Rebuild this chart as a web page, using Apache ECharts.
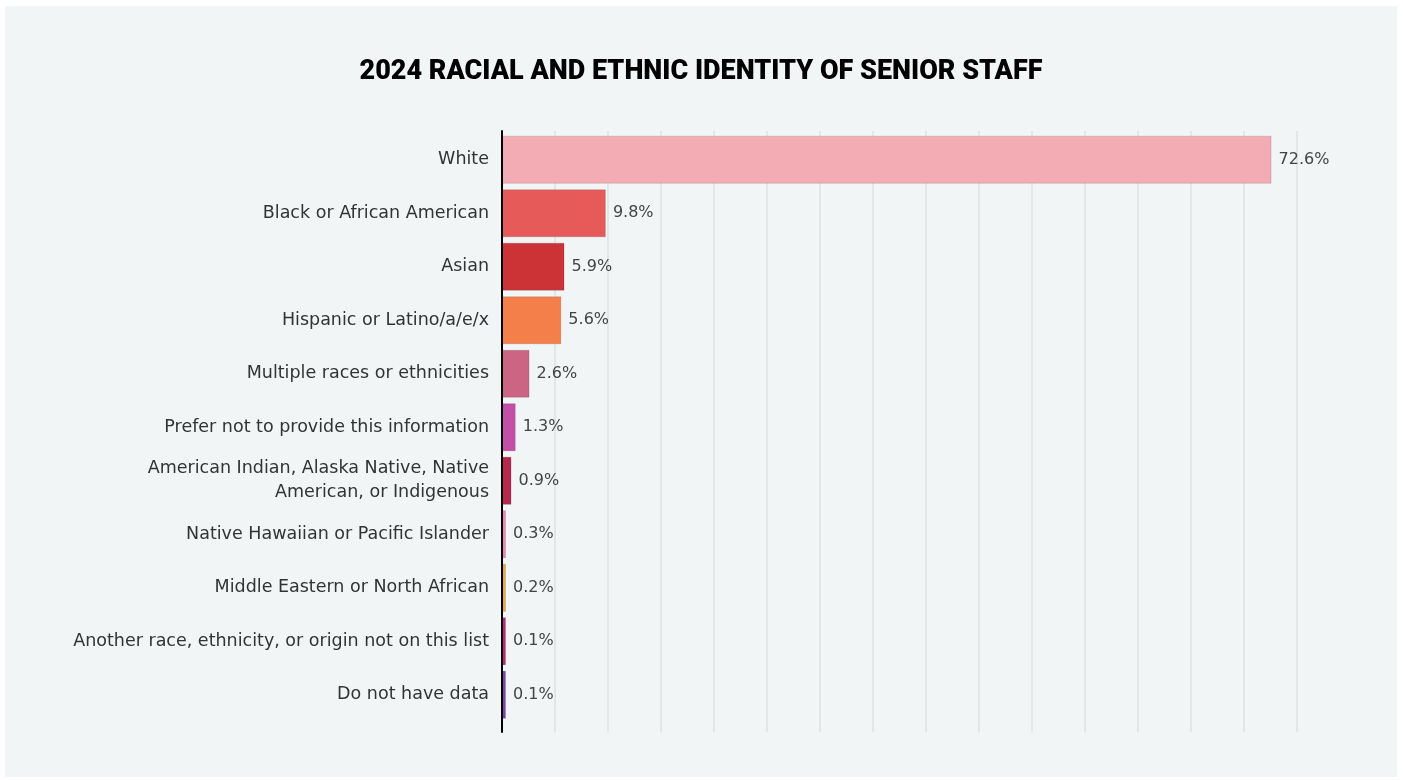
<!DOCTYPE html>
<html>
<head>
<meta charset="utf-8">
<script src="https://cdn.jsdelivr.net/npm/echarts@6/dist/echarts.min.js"></script>
<style>
  html, body { margin: 0; padding: 0; background: #ffffff; }
  #chart { position: absolute; left: 5px; top: 6px; width: 1392px; height: 771px; background: #f1f5f6; }
</style>
</head>
<body>
<div id="chart"></div>
<script>
// Racial and ethnic identity of senior staff, 2024 (share of respondents, %)
const categories = [
  'White',
  'Black or African American',
  'Asian',
  'Hispanic or Latino/a/e/x',
  'Multiple races or ethnicities',
  'Prefer not to provide this information',
  'American Indian, Alaska Native, Native\nAmerican, or Indigenous',
  'Native Hawaiian or Pacific Islander',
  'Middle Eastern or North African',
  'Another race, ethnicity, or origin not on this list',
  'Do not have data'
];
const shares = [72.6, 9.8, 5.9, 5.6, 2.6, 1.3, 0.9, 0.3, 0.2, 0.1, 0.1];

// One colour per group
const palette = [
  '#f4acb4', '#e65a5a', '#cc3336', '#f47f4a', '#cc6584', '#c44fa6',
  '#b5294f', '#ee87b0', '#f0a73a', '#b8297a', '#7b46a8'
];

const xScale = { min: 0, max: 75, interval: 5 };
const labelFont = 'DejaVu Sans';

const chart = echarts.init(document.getElementById('chart'), null, { renderer: 'canvas' });

chart.setOption({
  animation: false,
  title: {
    text: '2024 RACIAL AND ETHNIC IDENTITY OF SENIOR STAFF',
    left: 'center',
    top: 48,
    textStyle: {
      fontFamily: 'Roboto',
      fontWeight: 900,
      fontSize: 27,
      color: '#000000'
    }
  },
  grid: [
    // frame: vertical gridlines and the baseline, a little taller than the bar rows
    { left: 497, right: 100, top: 125, bottom: 45, containLabel: false },
    // bar rows
    { left: 497, right: 100, top: 127, bottom: 55.5, containLabel: false }
  ],
  xAxis: [
    {
      gridIndex: 0,
      type: 'value',
      min: xScale.min, max: xScale.max, interval: xScale.interval,
      axisLabel: { show: false },
      axisTick: { show: false },
      axisLine: { show: false },
      splitLine: { show: true, lineStyle: { color: '#e2e6e8', width: 2 } }
    },
    {
      gridIndex: 1,
      type: 'value',
      min: xScale.min, max: xScale.max, interval: xScale.interval,
      axisLabel: { show: false },
      axisTick: { show: false },
      axisLine: { show: false },
      splitLine: { show: false }
    }
  ],
  yAxis: [
    {
      gridIndex: 0,
      type: 'value',
      min: 0, max: 1,
      axisLabel: { show: false },
      axisTick: { show: false },
      splitLine: { show: false },
      axisLine: { show: true, lineStyle: { color: '#000000', width: 2 } },
      z: 5
    },
    {
      gridIndex: 1,
      type: 'category',
      data: categories,
      inverse: true,
      axisTick: { show: false },
      axisLine: { show: false },
      axisLabel: {
        margin: 13,
        fontFamily: labelFont,
        fontSize: 17.5,
        lineHeight: 24,
        padding: [4, 0, 0, 0],
        color: '#333333',
        align: 'right'
      }
    }
  ],
  series: [{
    type: 'bar',
    xAxisIndex: 1,
    yAxisIndex: 1,
    data: shares.map((v, i) => ({
      value: v,
      itemStyle: { color: palette[i] }
    })),
    barCategoryGap: '10%',
    barMinHeight: 4,
    itemStyle: { borderColor: 'rgba(0,0,0,0.12)', borderWidth: 1 },
    label: {
      show: true,
      position: 'right',
      distance: 7,
      padding: [4, 0, 0, 0],
      formatter: p => p.value + '%',
      fontFamily: labelFont,
      fontSize: 16,
      color: '#444444'
    }
  }]
});
</script>
</body>
</html>
